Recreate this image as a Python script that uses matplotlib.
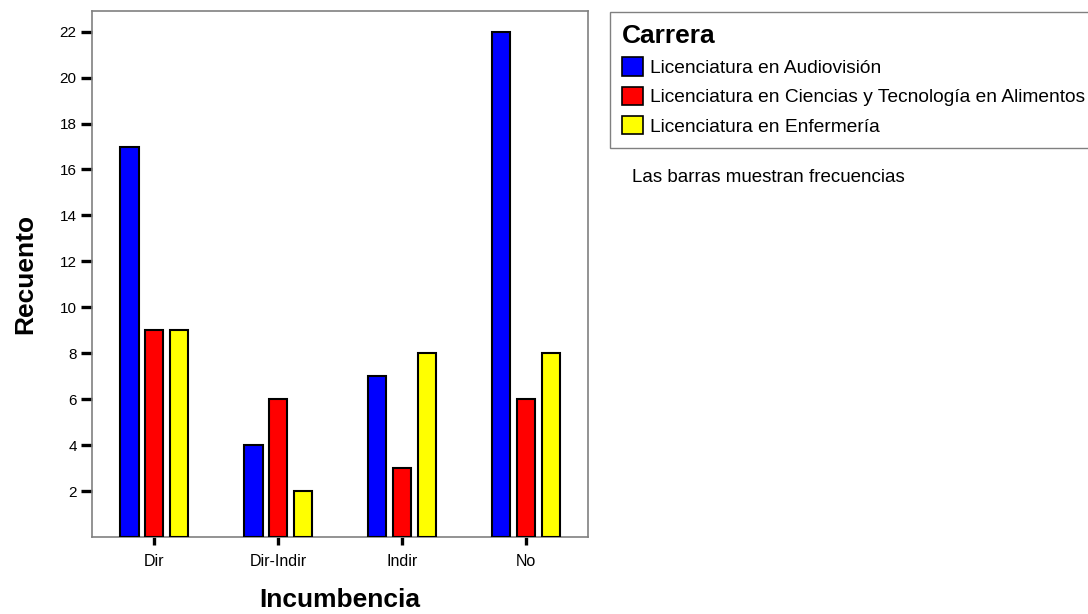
import numpy as np
import matplotlib.pyplot as plt
from matplotlib.patches import Patch

plt.rcParams['font.family'] = ['Liberation Sans', 'DejaVu Sans']

# --- data ---
categories = ['Dir', 'Dir-Indir', 'Indir', 'No']
series_names = ['Licenciatura en Audiovisión',
                'Licenciatura en Ciencias y Tecnología en Alimentos',
                'Licenciatura en Enfermería']
audiovision = [17, 4, 7, 22]
alimentos = [9, 6, 3, 6]
enfermeria = [9, 2, 8, 8]
colors = ['#0000ff', '#ff0000', '#ffff00']

fig = plt.figure(figsize=(10.88, 6.14), dpi=100)
ax = fig.add_axes([92 / 1088, 1 - 537 / 614, 496 / 1088, 526 / 614])

x = np.arange(len(categories))
width = 0.15
offsets = [-0.2, 0.0, 0.2]
for vals, off, col in zip([audiovision, alimentos, enfermeria], offsets, colors):
    ax.bar(x + off, vals, width, color=col, edgecolor='black', linewidth=1.5, zorder=3)

ax.set_xlim(-0.5, 3.5)
ax.set_ylim(0, 22.9)
ax.set_yticks(range(2, 23, 2))
ax.set_xticks(x)
ax.set_xticklabels(categories)

for s in ax.spines.values():
    s.set_color('#808080')
    s.set_linewidth(1.2)

ax.tick_params(axis='y', length=8, width=2.4, pad=3, labelsize=11, color='black')
ax.tick_params(axis='x', length=6, width=2.4, pad=6, labelsize=11.5, color='black')

ax.set_ylabel('Recuento', fontsize=19, fontweight='bold', labelpad=16)
ax.set_xlabel('Incumbencia', fontsize=19, fontweight='bold', labelpad=14)

# legend
handles = [Patch(facecolor=c, edgecolor='black', linewidth=1.2) for c in colors]
leg = fig.legend(handles, series_names, title='Carrera', loc='upper left',
                 bbox_to_anchor=(610 / 1088, 1 - 12 / 614), fancybox=False,
                 frameon=True, edgecolor='#606060', fontsize=13.8,
                 title_fontproperties={'weight': 'bold', 'size': 19},
                 alignment='left', handlelength=1.1, handleheight=1.1,
                 handletextpad=0.35, labelspacing=0.5, borderpad=0.62,
                 borderaxespad=0)
leg.get_frame().set_linewidth(1.0)

fig.text(632 / 1088, 1 - 177 / 614, 'Las barras muestran frecuencias',
         fontsize=13.5, va='center', ha='left')

fig.savefig('out.png', dpi=100)
